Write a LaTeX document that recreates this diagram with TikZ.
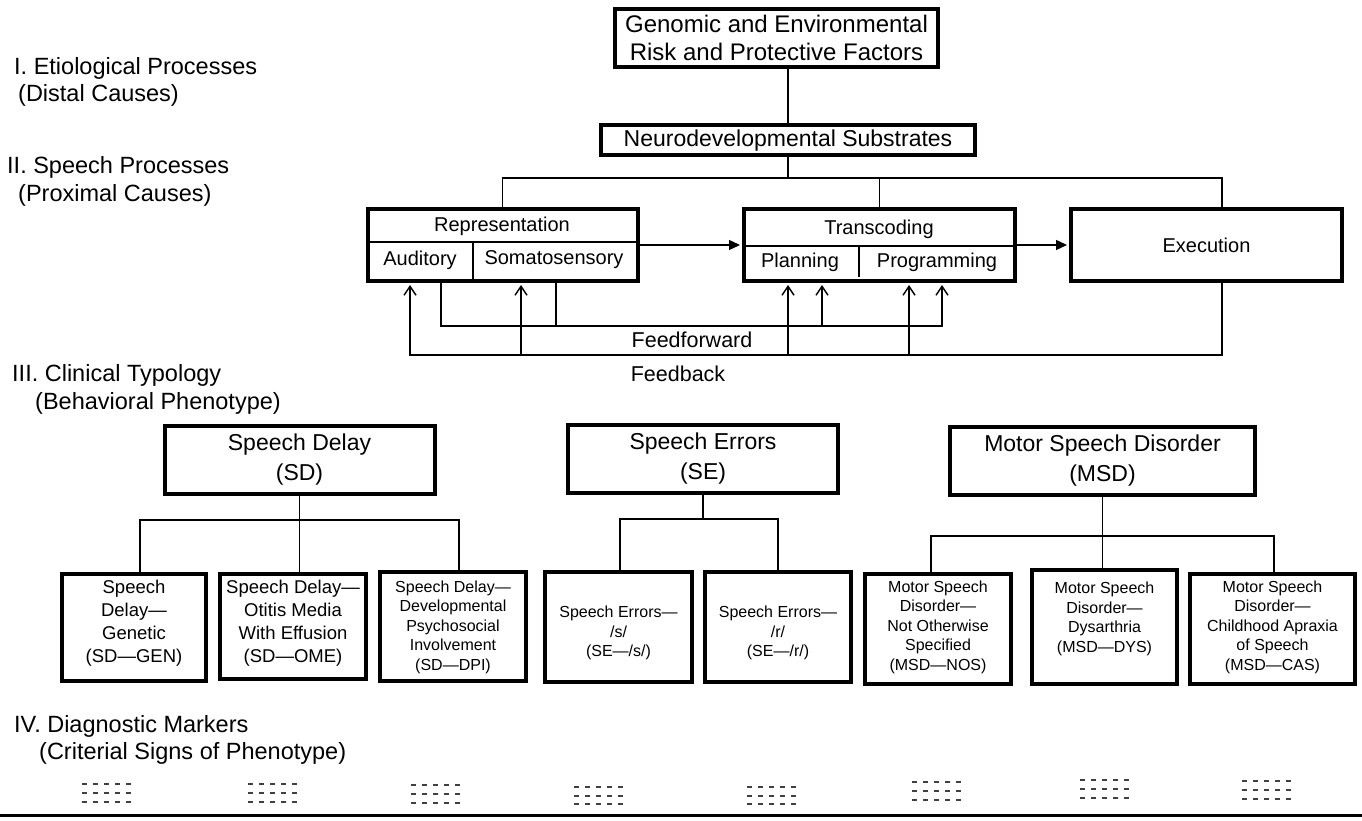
\documentclass[tikz,border=0pt]{standalone}
\usepackage{fontspec}
\setmainfont{Liberation Sans}
\usetikzlibrary{arrows.meta}
\newcommand{\fsz}[2]{\fontsize{#1}{#2}\selectfont}
\begin{document}
\begin{tikzpicture}[x=1pt,y=-1pt,
  box/.style={draw, line width=4pt, inner sep=0pt, align=center},
  conn/.style={line width=1.4pt},
  divl/.style={line width=2pt},
  lbl/.style={inner sep=0pt, anchor=west, font=\fsz{23.5}{28}},
  sub/.style={inner sep=0pt, font=\fsz{20}{24}},
  ctext/.style={inner sep=0pt, align=center, font=\fsz{16}{19.5}},
  ctextL/.style={inner sep=0pt, align=center, font=\fsz{18.5}{23}},
  fwd/.style={conn, shorten >=2pt, -{Triangle[length=11pt,width=10pt]}},
  upa/.style={conn, shorten >=2pt, -{Straight Barb[length=9pt,width=12pt,line width=1.4pt]}},
  dots/.style={line width=1.8pt, dash pattern=on 5pt off 6pt, black!75}]
\useasboundingbox (0,0) rectangle (1362,821);

% level labels
\node[lbl] (l1a) at (14,68) {I. Etiological Processes};
\node[lbl] (l1b) at (18,95) {(Distal Causes)};
\node[lbl] (l2a) at (7,167) {II. Speech Processes};
\node[lbl] (l2b) at (18,195) {(Proximal Causes)};
\node[lbl] (l3a) at (12,375) {III. Clinical Typology};
\node[lbl] (l3b) at (35,403) {(Behavioral Phenotype)};
\node[lbl] (l4a) at (14,726) {IV. Diagnostic Markers};
\node[lbl] (l4b) at (39,753) {(Criterial Signs of Phenotype)};

% level I
\node[box, minimum width=323, minimum height=58, font=\fsz{24}{28}] (gen) at (776.5,38) {Genomic and Environmental\\Risk and Protective Factors};
\node[box, minimum width=374, minimum height=30, font=\fsz{23}{27}] (neuro) at (788,140.5) {Neurodevelopmental Substrates};
\draw[conn] (neuro.north) -- (neuro.north |- gen.south);

% level II
\node[box, minimum width=270, minimum height=72] (rep) at (502.5,245) {};
\node[box, minimum width=271, minimum height=72] (trans) at (879.5,245) {};
\node[box, minimum width=271, minimum height=72, font=\fsz{20}{24}] (exec) at (1206.5,245) {Execution};

\coordinate (bus) at (0,178);
\coordinate (busR) at (1222,178);
\draw[conn] (neuro.south) -- (neuro.south |- bus);
\draw[conn] (rep.north) -- (rep.north |- bus) -- (busR) -- (busR |- exec.north);
\draw[conn] (trans.north) -- (trans.north |- bus);

\coordinate (repd) at (0,242);
\coordinate (repv) at (473,242);
\draw[divl] (rep.west |- repd) -- (rep.east |- repd);
\draw[divl] (repv) -- (repv |- rep.south);
\coordinate (trd) at (0,246);
\coordinate (trv) at (859,246);
\coordinate (trvb) at (859,277);
\draw[divl] (trans.west |- trd) -- (trans.east |- trd);
\draw[divl] (trv) -- (trvb);

\node[sub] (repT) at (502,226) {Representation};
\node[sub] (aud) at (420,260) {Auditory};
\node[sub] (soma) at (554,260) {Somatosensory};
\node[sub] (trT) at (879,229) {Transcoding};
\node[sub] (plan) at (800,262) {Planning};
\node[sub] (prog) at (937,262) {Programming};

\draw[fwd] (rep.east) -- (trans.west);
\draw[fwd] (trans.east) -- (exec.west);

% feedforward
\coordinate (ffA) at (441,326);
\coordinate (ffS) at (556,326);
\coordinate (ffP) at (822,326);
\coordinate (ffG) at (942,326);
\draw[upa] (ffA |- rep.south) -- (ffA) -- (ffG) -- (ffG |- trans.south);
\draw[conn] (ffS |- rep.south) -- (ffS);
\draw[upa] (ffP) -- (ffP |- trans.south);

% feedback
\coordinate (fb) at (0,355);
\coordinate (fbA) at (410,355);
\coordinate (fbS) at (521,355);
\coordinate (fbP) at (788,355);
\coordinate (fbG) at (909,355);
\draw[upa] (exec.south -| busR) -- (busR |- fb) -- (fbA) -- (fbA |- rep.south);
\draw[upa] (fbS) -- (fbS |- rep.south);
\draw[upa] (fbP) -- (fbP |- trans.south);
\draw[upa] (fbG) -- (fbG |- trans.south);

\node[inner sep=0pt, font=\fsz{21.5}{26}] (ffl) at (692,340) {Feedforward};
\node[inner sep=0pt, font=\fsz{21.5}{26}] (fbl) at (678,374) {Feedback};

% level III
\node[box, minimum width=270, minimum height=68, font=\fsz{23}{30}] (sd) at (299.5,460) {Speech Delay\\(SD)};
\node[box, minimum width=270, minimum height=68, font=\fsz{23}{30}] (se) at (703,459) {Speech Errors\\(SE)};
\node[box, minimum width=305, minimum height=68, font=\fsz{23}{30}] (msd) at (1102.5,461) {Motor Speech Disorder\\(MSD)};

% children boxes
\node[box, minimum width=144, minimum height=107] (sd1) at (134,627.5) {};
\node[box, minimum width=146, minimum height=105] (sd2) at (293,626.5) {};
\node[box, minimum width=146, minimum height=109] (sd3) at (453,626.5) {};
\node[box, minimum width=147, minimum height=110] (se1) at (618.5,627) {};
\node[box, minimum width=146, minimum height=110] (se2) at (778,627) {};
\node[box, minimum width=146, minimum height=110] (msd1) at (938,629) {};
\node[box, minimum width=145, minimum height=114] (msd2) at (1104.5,627) {};
\node[box, minimum width=165, minimum height=110] (msd3) at (1272.5,629) {};

\node[ctextL] (sd1t) at (134,623) {Speech\\Delay—\\Genetic\\(SD—GEN)};
\node[ctextL] (sd2t) at (293,623) {Speech Delay—\\Otitis Media\\With Effusion\\(SD—OME)};
\node[ctext] (sd3t) at (453,627) {Speech Delay—\\Developmental\\Psychosocial\\Involvement\\(SD—DPI)};
\node[ctext] (se1t) at (618.5,633) {Speech Errors—\\/s/\\(SE—/s/)};
\node[ctext] (se2t) at (778,633) {Speech Errors—\\/r/\\(SE—/r/)};
\node[ctext] (msd1t) at (938,627) {Motor Speech\\Disorder—\\Not Otherwise\\Specified\\(MSD—NOS)};
\node[ctext] (msd2t) at (1104.5,619) {Motor Speech\\Disorder—\\Dysarthria\\(MSD—DYS)};
\node[ctext] (msd3t) at (1272.5,627) {Motor Speech\\Disorder—\\Childhood Apraxia\\of Speech\\(MSD—CAS)};

% tree connectors
\coordinate (sdL) at (140,520);
\coordinate (sdR) at (459,520);
\draw[conn] (sd.south) -- (sd.south |- sd2.north);
\draw[conn] (sdL |- sd1.north) -- (sdL) -- (sdR) -- (sdR |- sd3.north);

\coordinate (seL) at (620,519);
\coordinate (seR) at (778,519);
\draw[conn] (se.south) -- (se.south |- seL);
\draw[conn] (seL |- se1.north) -- (seL) -- (seR) -- (seR |- se2.north);

\coordinate (msdL) at (931,536);
\coordinate (msdR) at (1274,536);
\draw[conn] (msd.south) -- (msd.south |- msd2.north);
\draw[conn] (msdL |- msd1.north) -- (msdL) -- (msdR) -- (msdR |- msd3.north);

% diagnostic markers
\foreach \x/\ya/\yb/\yc in {107/784/793/802, 273/784/793/802, 436/785/794/803, 599/787/796/804, 772/787/796/804, 937/782/791/800, 1105/780/789/798, 1267/781/790/799} {
  \foreach \y in {\ya,\yb,\yc} \draw[dots] ({\x-25},\y) -- ({\x+25},\y);
}
\draw[line width=3pt] (0,815) -- (1362,815);
\end{tikzpicture}
\end{document}
